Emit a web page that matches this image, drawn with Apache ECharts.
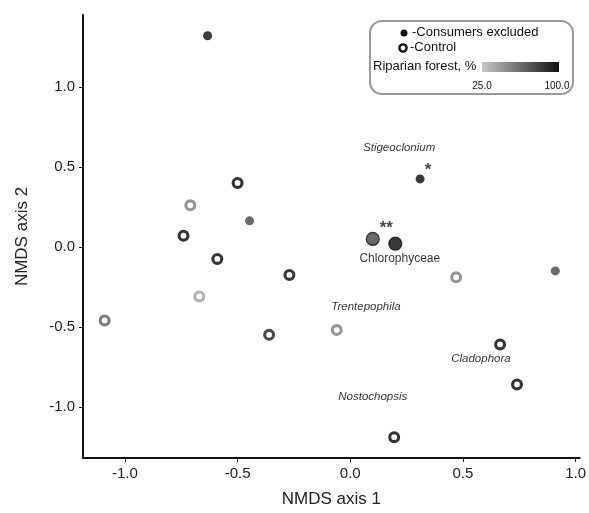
<!DOCTYPE html>
<html>
<head>
<meta charset="utf-8">
<script src="https://cdn.jsdelivr.net/npm/echarts@6/dist/echarts.min.js"></script>
<style>
    html, body { margin:0; padding:0; background:#fff; }
    #chart { width:589px; height:513px; }
</style>
</head>
<body>
<div id="chart"></div>
<script>

/* 数据：NMDS 坐标 + 河岸林比例 % */
const excludedX = [-0.633, -0.447, 0.31, 0.91];
const excludedY = [1.32, 0.163, 0.425, -0.15];
const excludedForest = [95, 71, 98, 71];

/* 带 ** 的两个大点 */
const starX = [0.10, 0.20];
const starY = [0.05, 0.02];
const starForest = [72, 97];

const controlX = [-0.50, -0.71, -0.74, -0.59, -0.27, -1.09, -0.67, -0.36, -0.06, 0.47, 0.665, 0.74, 0.195];
const controlY = [0.40, 0.26, 0.07, -0.075, -0.175, -0.46, -0.31, -0.55, -0.52, -0.19, -0.61, -0.86, -1.19];
const controlForest = [100, 49, 100, 98, 98, 62, 34, 88, 49, 49, 100, 100, 100];

/* 标注文字 */
const taxaNames = ["Stigeoclonium", "Chlorophyceae", "Trentepophila", "Cladophora", "Nostochopsis"];
const taxaX = [0.217, 0.22, 0.07, 0.58, 0.10];
const taxaY = [0.62, -0.075, -0.375, -0.70, -0.937];
const taxaItalic = [true, false, true, true, true];

const markText = ["*", "**"];
const markX = [0.345, 0.16];
const markY = [0.48, 0.115];

const ticks = [-1.0, -0.5, 0.0, 0.5, 1.0];
const forestRange = [25, 100];

const zip = (xs, ys, vs) => xs.map((x, i) => [x, ys[i], vs[i]]);

const chart = echarts.init(document.getElementById("chart"));

const font = "Liberation Sans, Arial, sans-serif";

/* 空心圆环 */
const ringPath = "path://M0,-10A10,10,0,1,1,0,10A10,10,0,1,1,0,-10ZM0,-4.8A4.8,4.8,0,1,0,0,4.8A4.8,4.8,0,1,0,0,-4.8Z";

/* 坐标轴公共样式 */
function axisStyle(){
    return {
        type:"value",
        nameLocation:"middle",
        nameTextStyle:{ fontSize:17, color:"#222", fontFamily:font },
        splitLine:{ show:false },
        axisLine:{ onZero:false, lineStyle:{ color:"#111", width:2 } },
        axisTick:{ customValues:ticks, length:4, lineStyle:{ color:"#111" } },
        axisLabel:{
            customValues:ticks,
            fontSize:15,
            color:"#222",
            fontFamily:font,
            margin:8,
            formatter:v => v.toFixed(1)
        }
    };
}

chart.setOption({

    animation:false,

    grid:{
        left:83,
        right:8,
        top:15,
        bottom:55
    },

    xAxis:Object.assign(axisStyle(), {
        min:-1.186,
        max:1.018,
        name:"NMDS axis 1",
        nameGap:33
    }),

    yAxis:Object.assign(axisStyle(), {
        min:-1.32,
        max:1.45,
        name:"NMDS axis 2",
        nameGap:52
    }),

    /* 颜色按河岸林比例映射 */
    visualMap:{
        show:false,
        type:"continuous",
        min:forestRange[0],
        max:forestRange[1],
        dimension:2,
        seriesIndex:[0, 1, 2],
        inRange:{ color:["#b4b4b4", "#000000"] }
    },

    series:[
        {
            name:"Consumers excluded",
            type:"scatter",
            symbol:"circle",
            symbolSize:9,
            data:zip(excludedX, excludedY, excludedForest)
        },
        {
            name:"Consumers excluded **",
            type:"scatter",
            symbol:"circle",
            symbolSize:13,
            itemStyle:{ borderColor:"#111", borderWidth:1.2 },
            data:zip(starX, starY, starForest)
        },
        {
            name:"Control",
            type:"scatter",
            symbol:ringPath,
            symbolSize:12,
            data:zip(controlX, controlY, controlForest)
        },
        {
            name:"taxa",
            type:"scatter",
            symbolSize:0,
            silent:true,
            data:taxaNames.map((n, i) => ({
                value:[taxaX[i], taxaY[i]],
                label:{ fontStyle:taxaItalic[i] ? "italic" : "normal", fontSize:taxaItalic[i] ? 11.5 : 12 }
            })),
            label:{
                show:true,
                position:"inside",
                color:"#000",
                fontFamily:font,
                formatter:p => taxaNames[p.dataIndex]
            }
        },
        {
            name:"marks",
            type:"scatter",
            symbolSize:0,
            silent:true,
            data:markX.map((x, i) => [x, markY[i]]),
            label:{
                show:true,
                position:"inside",
                color:"#111",
                fontSize:17,
                fontWeight:"bold",
                fontFamily:font,
                formatter:p => markText[p.dataIndex]
            }
        }
    ],

    /* 图例框 */
    graphic:[
        {
            type:"rect",
            shape:{ x:370, y:21, width:203, height:73, r:12 },
            style:{ fill:"#fff", stroke:"#999", lineWidth:2 }
        },
        {
            type:"circle",
            shape:{ cx:404, cy:33, r:3.5 },
            style:{ fill:"#111" }
        },
        {
            type:"text",
            left:412, top:26,
            style:{ text:"-Consumers excluded", fontSize:13, fill:"#111", fontFamily:font }
        },
        {
            type:"circle",
            shape:{ cx:403, cy:48, r:3.6 },
            style:{ fill:"#fff", stroke:"#111", lineWidth:2.4 }
        },
        {
            type:"text",
            left:410, top:41,
            style:{ text:"-Control", fontSize:13, fill:"#111", fontFamily:font }
        },
        {
            type:"text",
            left:373, top:60,
            style:{ text:"Riparian forest, %", fontSize:13, fill:"#111", fontFamily:font }
        },
        {
            type:"rect",
            shape:{ x:482, y:62, width:77, height:10 },
            style:{
                fill:new echarts.graphic.LinearGradient(0, 0, 1, 0, [
                    { offset:0, color:"#c8c8c8" },
                    { offset:1, color:"#111" }
                ])
            }
        },
        {
            type:"text",
            x:482, y:81,
            style:{ text:forestRange[0].toFixed(1), fontSize:10, fill:"#111", fontFamily:font, align:"center" }
        },
        {
            type:"text",
            x:557, y:81,
            style:{ text:forestRange[1].toFixed(1), fontSize:10, fill:"#111", fontFamily:font, align:"center" }
        }
    ]
});
</script>
</body>
</html>
